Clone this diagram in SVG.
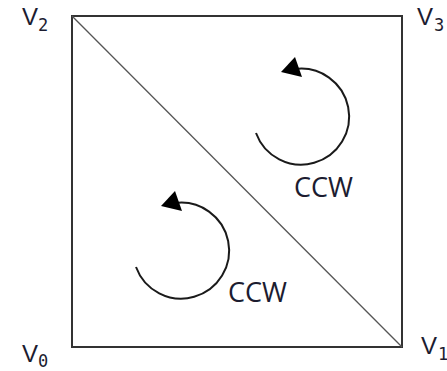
<svg xmlns="http://www.w3.org/2000/svg" width="447" height="371" viewBox="0 0 447 371">
<style>
.v{font-family:"Liberation Sans",Arial,sans-serif;font-size:24px;fill:#1c1c30}
.s{font-family:"DejaVu Sans Mono","Liberation Mono",monospace;font-size:17px;fill:#1c1c30}
.ccw{font-family:"Open Sans","Liberation Sans",sans-serif;font-size:27px;fill:#1c1c30}
.arc{fill:none;stroke:#1a1a1a;stroke-width:2}
</style>
<rect width="447" height="371" fill="#fff"/>
<g id="square">
<rect x="72" y="16" width="330" height="331" fill="none" stroke="#333" stroke-width="2"/>
</g>
<g id="connectors">
<line x1="72" y1="16" x2="402" y2="347" stroke="#555" stroke-width="1.3"/>
</g>
<g id="labels">
<text class="v" x="22" y="25">V</text><text class="s" x="38" y="31">2</text>
<text class="v" x="417" y="25">V</text><text class="s" x="434" y="31">3</text>
<text class="v" x="22" y="362">V</text><text class="s" x="38" y="367">0</text>
<text class="v" x="421" y="354">V</text><text class="s" x="438" y="360">1</text>
</g>
<g id="rot-upper">
<path class="arc" d="M256,133 A48,48 0 1 0 295,69"/>
<path d="M281,72 L295,57 L302,77 z" fill="#000"/>
<text class="ccw" x="294" y="197">CCW</text>
</g>
<g id="rot-lower">
<path class="arc" d="M136,267 A48,48 0 1 0 175,203"/>
<path d="M161,206 L175,191 L182,211 z" fill="#000"/>
<text class="ccw" x="228" y="302">CCW</text>
</g>
</svg>
